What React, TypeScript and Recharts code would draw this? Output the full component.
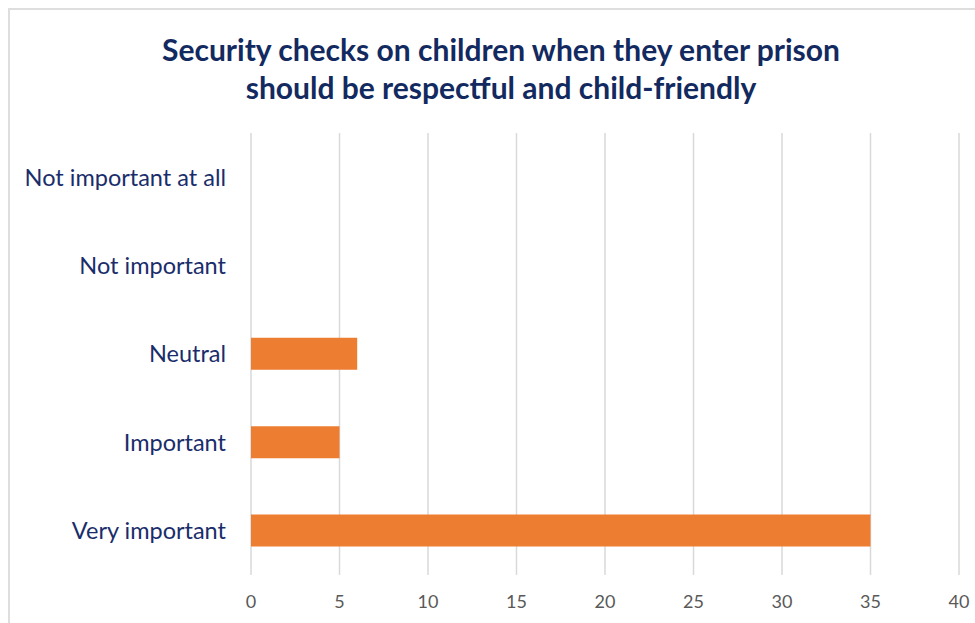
import React from "react";
import { BarChart, Bar, XAxis, YAxis, CartesianGrid } from "recharts";

const categories = ["Not important at all", "Not important", "Neutral", "Important", "Very important"];
const responses = [0, 0, 6, 5, 35];
const xTicks = [0, 5, 10, 15, 20, 25, 30, 35, 40];
const titleLines = [
  "Security checks on children when they enter prison",
  "should be respectful and child-friendly",
];

const data = categories.map((name, i) => ({ name, value: responses[i] }));

export default function App() {
  return (
    <div style={{ position: "absolute", left: 0, top: 0, width: 975, height: 623, overflow: "hidden", background: "#fff" }}>
      <div style={{ position: "absolute", left: 8, top: 8, width: 1100, height: 1100, border: "2px solid #dedede", boxSizing: "border-box" }} />
      <div
        style={{
          position: "absolute",
          left: 0,
          top: 30,
          width: 1002,
          textAlign: "center",
          fontFamily: "Lato, 'Open Sans', sans-serif",
          fontWeight: 700,
          fontSize: 30,
          lineHeight: "38px",
          color: "#132a60",
        }}
      >
        {titleLines.map((l) => (
          <div key={l}>{l}</div>
        ))}
      </div>
      <div style={{ position: "absolute", left: 0, top: 0 }}>
        <BarChart
          width={975}
          height={623}
          data={data}
          layout="vertical"
          margin={{ top: 133, right: 16, bottom: 0, left: 11 }}
        >
          <CartesianGrid horizontal={false} stroke="#d9d9d9" strokeWidth={1.5} />
          <XAxis
            type="number"
            domain={[0, 40]}
            ticks={xTicks}
            axisLine={false}
            tickLine={false}
            tickSize={0}
            tickMargin={20}
            height={48}
            tick={{ fill: "#595959", fontSize: 18, fontFamily: "Lato, sans-serif" }}
          />
          <YAxis
            type="category"
            dataKey="name"
            width={240}
            axisLine={false}
            tickLine={false}
            tickSize={0}
            tickMargin={25}
            tick={{ fill: "#1a2d6b", fontSize: 23.5, fontFamily: "Lato, sans-serif" }}
          />
          <Bar dataKey="value" fill="#ed7d31" barSize={32} isAnimationActive={false} />
        </BarChart>
      </div>
    </div>
  );
}
